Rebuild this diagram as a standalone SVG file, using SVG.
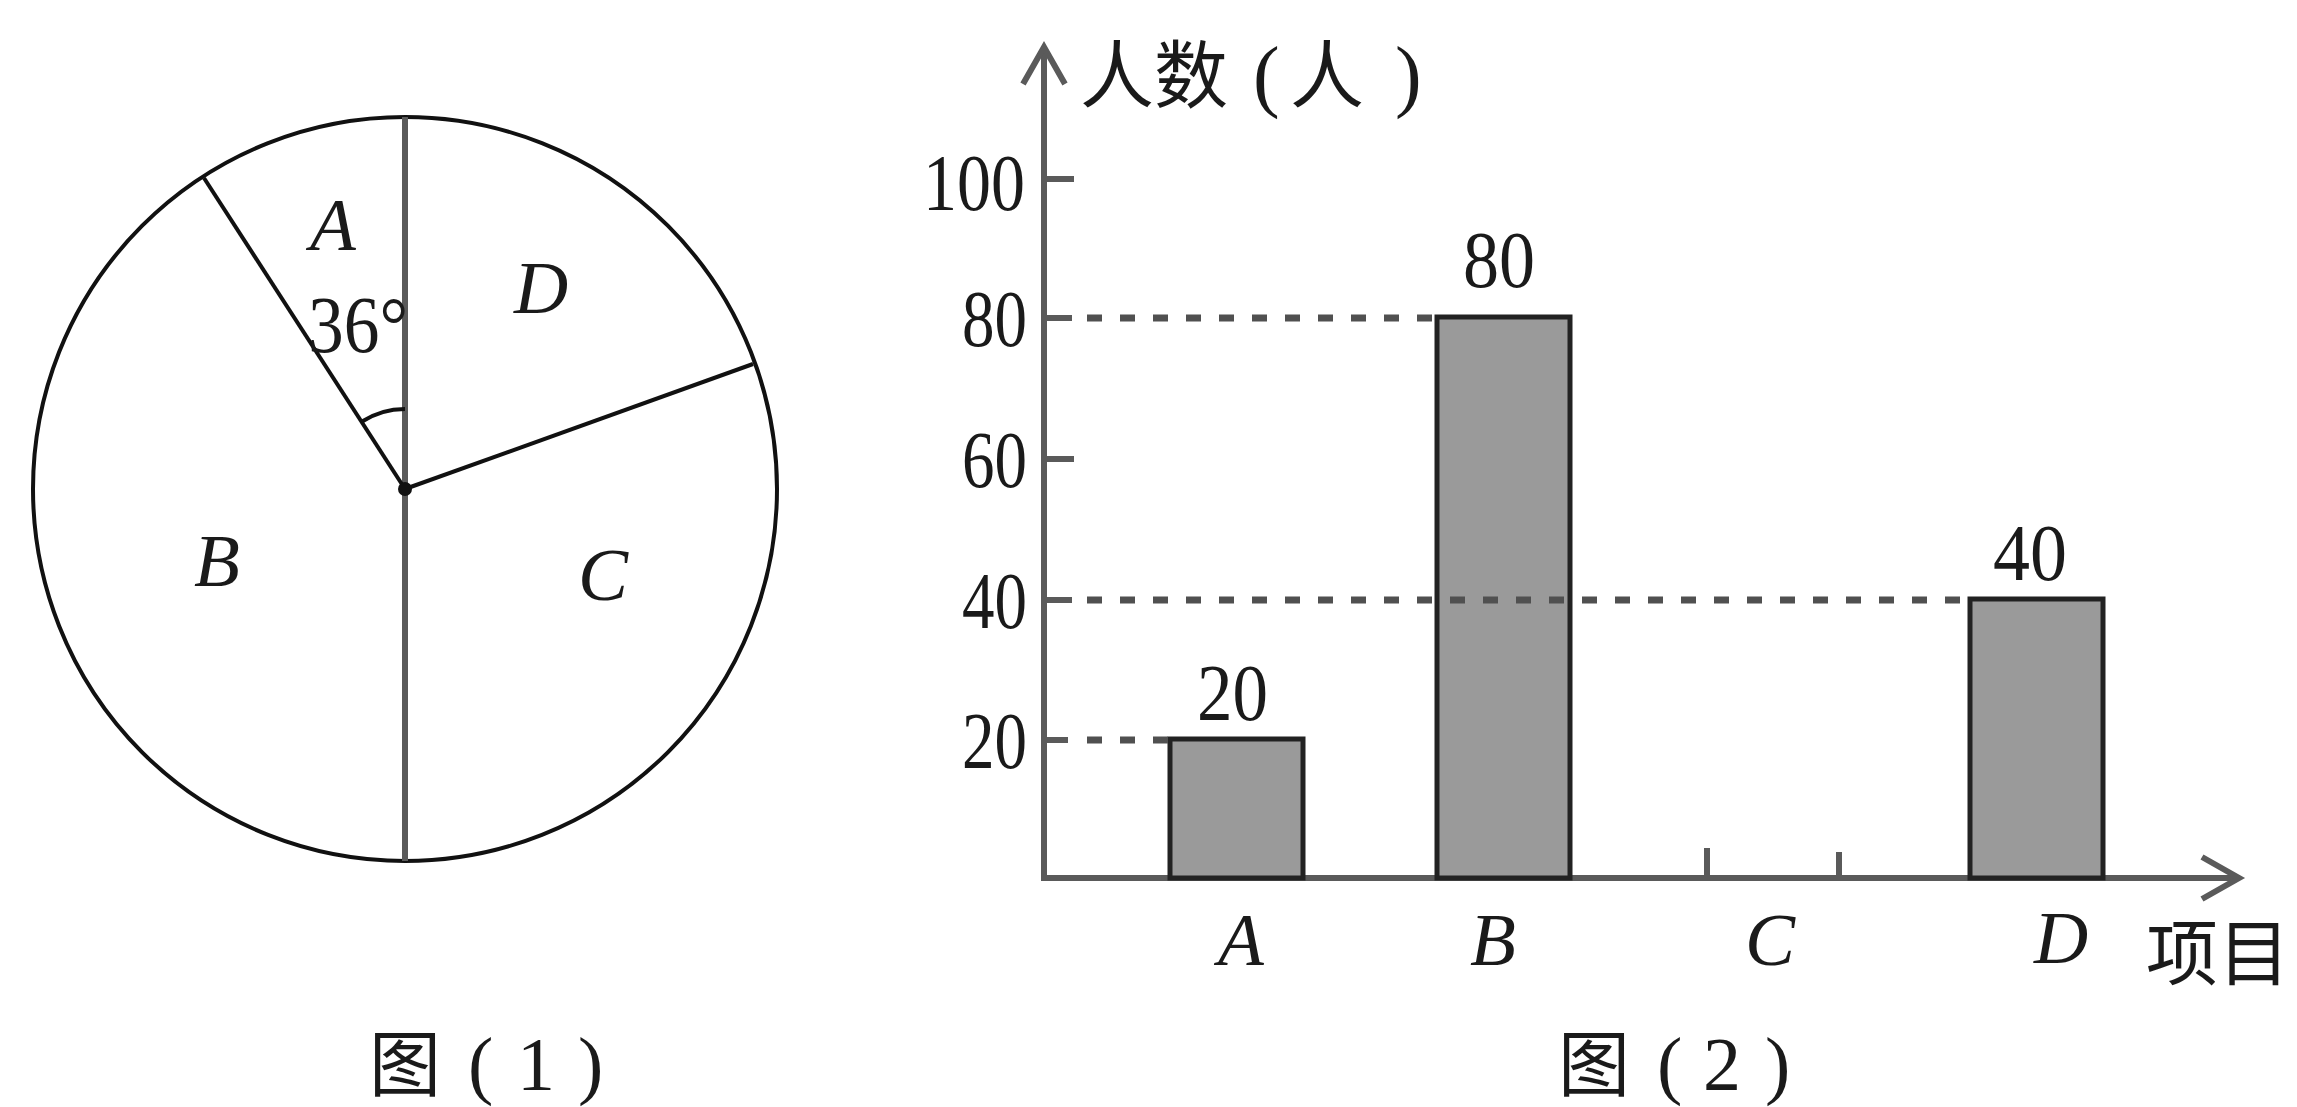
<svg xmlns="http://www.w3.org/2000/svg" width="2297" height="1107" viewBox="0 0 2297 1107">
<style>
.num{font-family:"Liberation Serif","Times New Roman",serif;font-size:80px;fill:#1a1a1a}
.it{font-family:"Liberation Serif","Times New Roman",serif;font-style:italic;font-size:75px;fill:#1a1a1a;text-anchor:middle}
.cjk{font-family:"Noto Sans CJK SC","Noto Sans CJK JP",sans-serif;fill:#1a1a1a}
.paren{font-family:"Liberation Serif","Times New Roman",serif;fill:#1a1a1a}
.pie{fill:none;stroke:#111;stroke-width:4}
.axis{fill:none;stroke:#5a5a5a;stroke-width:6}
.bar{fill:#9a9a9a;stroke:#222;stroke-width:5}
.dash{fill:none;stroke:#505050;stroke-width:7;stroke-dasharray:15 18}
</style>
<rect width="2297" height="1107" fill="#ffffff"/>

<g id="pie-chart">
  <circle class="pie" cx="405" cy="489" r="372"/>
  <line x1="405" y1="117" x2="405" y2="861" stroke="#5a5a5a" stroke-width="6"/>
  <line class="pie" x1="405" y1="489" x2="204" y2="178"/>
  <line class="pie" x1="405" y1="489" x2="753" y2="364"/>
  <path class="pie" d="M361.6,421.8 A80,80 0 0 1 405,409"/>
  <circle cx="405" cy="489" r="7" fill="#111"/>
  <text class="it" x="333" y="250">A</text>
  <text class="num" x="308" y="352" textLength="100" lengthAdjust="spacingAndGlyphs">36°</text>
  <text class="it" x="541" y="313">D</text>
  <text class="it" x="217" y="586">B</text>
  <text class="it" x="603" y="600">C</text>
  <text id="caption1" class="cjk" y="1090" font-size="72"><tspan x="369">图</tspan><tspan class="paren" x="468" font-size="76">(</tspan><tspan class="paren" x="517" font-size="76">1</tspan><tspan class="paren" x="578" font-size="76">)</tspan></text>
</g>

<g id="bar-chart">
  <g id="axes">
    <line class="axis" x1="1044" y1="50" x2="1044" y2="881"/>
    <line class="axis" x1="1041" y1="878" x2="2236" y2="878"/>
    <polyline class="axis" points="1023,84 1044,47 1065,84"/>
    <polyline class="axis" points="2202,857 2239,878 2202,899"/>
    <line class="axis" x1="1044" y1="179" x2="1074" y2="179"/>
    <line class="axis" x1="1044" y1="318" x2="1072" y2="318"/>
    <line class="axis" x1="1044" y1="459" x2="1074" y2="459"/>
    <line class="axis" x1="1044" y1="600" x2="1072" y2="600"/>
    <line class="axis" x1="1044" y1="740" x2="1068" y2="740"/>
    <line class="axis" x1="1707" y1="848" x2="1707" y2="878"/>
    <line class="axis" x1="1839" y1="852" x2="1839" y2="878"/>
  </g>
  <g id="tick-labels">
    <text class="num" x="923" y="210" textLength="102" lengthAdjust="spacingAndGlyphs">100</text>
    <text class="num" x="962" y="346" textLength="65" lengthAdjust="spacingAndGlyphs">80</text>
    <text class="num" x="962" y="487" textLength="65" lengthAdjust="spacingAndGlyphs">60</text>
    <text class="num" x="962" y="628" textLength="65" lengthAdjust="spacingAndGlyphs">40</text>
    <text class="num" x="962" y="768" textLength="65" lengthAdjust="spacingAndGlyphs">20</text>
  </g>
  <g id="bar-A">
    <rect class="bar" x="1170" y="739" width="133" height="139"/>
    <text class="num" x="1197" y="720" textLength="71" lengthAdjust="spacingAndGlyphs">20</text>
    <text class="it" x="1241" y="965">A</text>
  </g>
  <g id="bar-B">
    <rect class="bar" x="1437" y="317" width="133" height="561"/>
    <text class="num" x="1463" y="287" textLength="72" lengthAdjust="spacingAndGlyphs">80</text>
    <text class="it" x="1493" y="965">B</text>
  </g>
  <g id="bar-C">
    <text class="it" x="1770" y="965">C</text>
  </g>
  <g id="bar-D">
    <rect class="bar" x="1970" y="599" width="133" height="279"/>
    <text class="num" x="1993" y="580" textLength="74" lengthAdjust="spacingAndGlyphs">40</text>
    <text class="it" x="2061" y="963">D</text>
  </g>
  <g id="connectors">
    <line class="dash" x1="1087" y1="740" x2="1170" y2="740"/>
    <line class="dash" x1="1087" y1="318" x2="1437" y2="318"/>
    <line class="dash" x1="1087" y1="600" x2="1960" y2="600"/>
  </g>
  <text id="y-title" class="cjk" y="102" font-size="74"><tspan x="1080">人数</tspan><tspan class="paren" x="1253" font-size="80">(</tspan><tspan x="1290">人</tspan><tspan class="paren" x="1395" font-size="80">)</tspan></text>
  <text id="x-title" class="cjk" x="2146" y="979" font-size="72">项目</text>
  <text id="caption2" class="cjk" y="1090" font-size="72"><tspan x="1558">图</tspan><tspan class="paren" x="1657" font-size="76">(</tspan><tspan class="paren" x="1703" font-size="76">2</tspan><tspan class="paren" x="1765" font-size="76">)</tspan></text>
</g>
</svg>
